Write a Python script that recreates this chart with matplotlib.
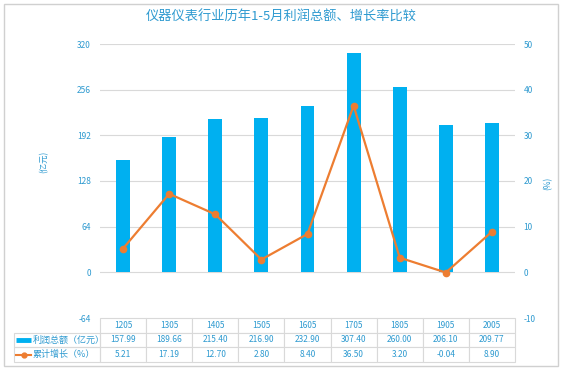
import matplotlib.pyplot as plt
from matplotlib.patches import Rectangle
from matplotlib.lines import Line2D

plt.rcParams['font.family'] = ['Noto Sans CJK SC', 'DejaVu Sans']
plt.rcParams['axes.unicode_minus'] = False

years = ['1205', '1305', '1405', '1505', '1605', '1705', '1805', '1905', '2005']
profit = [157.99, 189.66, 215.40, 216.90, 232.90, 307.40, 260.00, 206.10, 209.77]
growth = [5.21, 17.19, 12.70, 2.80, 8.40, 36.50, 3.20, -0.04, 8.90]
left_ticks = [-64, 0, 64, 128, 192, 256, 320]
right_ticks = [-10, 0, 10, 20, 30, 40, 50]
row_names = ['利润总额（亿元）', '累计增长（%）']

bar_color = '#00b0f0'
line_color = '#ed7d31'
text_color = '#2e9ad0'
grid_color = '#d9d9d9'

W, H = 563, 369
fig = plt.figure(figsize=(W / 100, H / 100), dpi=100)
fig.patches.append(Rectangle((4 / W, 3 / H), 554 / W, 362 / H, transform=fig.transFigure,
                             fill=False, edgecolor='#d0d0d0', linewidth=1))

# plot area: x 100..515 px, y 44..318 px
ax_w, ax_h = 415, 274
ax = fig.add_axes([100 / W, 1 - 318 / H, ax_w / W, ax_h / H])
x = list(range(len(years)))
ax.bar(x, profit, width=0.3, color=bar_color, zorder=2)
ax.set_xlim(-0.5, len(years) - 0.5)
ax.set_ylim(-64, 320)
ax.set_yticks(left_ticks)
ax.set_xticks([])
for t in left_ticks[1:]:
    ax.axhline(t, color=grid_color, linewidth=0.8, zorder=1)
for s in ax.spines.values():
    s.set_visible(False)
ax.tick_params(axis='y', length=0, labelsize=6, labelcolor=text_color, pad=6.5)

ax2 = ax.twinx()
ax2.plot(x, growth, color=line_color, linewidth=1.6, marker='o', markersize=4.5, zorder=3)
ax2.set_ylim(-10, 50)
ax2.set_yticks(right_ticks)
for s in ax2.spines.values():
    s.set_visible(False)
ax2.tick_params(axis='y', length=0, labelsize=6, labelcolor=text_color, pad=6)

fig.text(44 / W, 1 - 162 / H, '(亿元)', rotation=90, ha='center', va='center',
         fontsize=6, color=text_color)
fig.text(548 / W, 1 - 183 / H, '(%)', rotation=90, ha='center', va='center',
         fontsize=6, color=text_color)
fig.text(0.5, 1 - 17 / H, '仪器仪表行业历年1-5月利润总额、增长率比较', ha='center', va='center',
         fontsize=9.5, color=text_color)

# data table under the chart: y 318..362 px
tbl_h = 44
cells = [[f'{v:.2f}' for v in profit], [f'{v:.2f}' for v in growth]]
tbl = ax.table(cellText=cells, colLabels=years, cellLoc='center',
               bbox=[0, -tbl_h / ax_h, 1, tbl_h / ax_h])
tbl.auto_set_font_size(False)
tbl.set_fontsize(6)
for cell in tbl.get_celld().values():
    cell.set_edgecolor(grid_color)
    cell.set_linewidth(0.8)
    cell.get_text().set_color(text_color)

# row label column: x 14..100 px
row_h = tbl_h / 3
for i, name in enumerate(row_names):
    top = 318 + row_h * (i + 1)
    fig.patches.append(Rectangle((14 / W, 1 - (top + row_h) / H), 86 / W, row_h / H,
                                 transform=fig.transFigure, fill=False,
                                 edgecolor=grid_color, linewidth=0.8))
    yc = 1 - (top + row_h / 2) / H
    fig.text(33 / W, yc, name, ha='left', va='center', fontsize=6.5, color=text_color)
    if i == 0:
        fig.add_artist(Line2D([16 / W, 31 / W], [yc, yc], color=bar_color, linewidth=3.5,
                              solid_capstyle='butt', transform=fig.transFigure))
    else:
        fig.add_artist(Line2D([16 / W, 31 / W], [yc, yc], color=line_color, linewidth=1.5,
                              transform=fig.transFigure))
        fig.add_artist(Line2D([23.5 / W], [yc], color=line_color, marker='o', markersize=3.5,
                              linestyle='none', transform=fig.transFigure))

fig.savefig('out.png', dpi=100)
